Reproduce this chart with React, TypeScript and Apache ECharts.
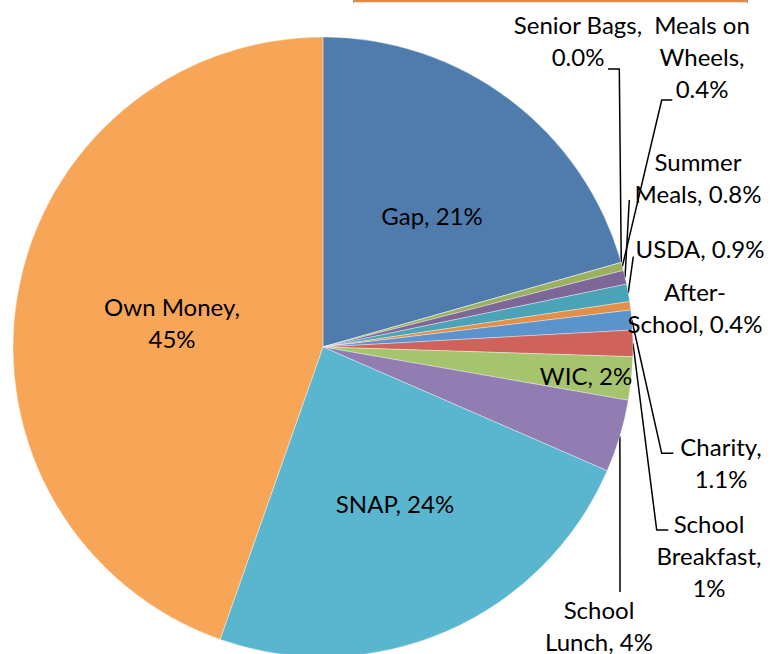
import React, { useEffect, useRef } from "react";
import * as echarts from "echarts";

// ---- data ----
const categories = [
  "Gap",
  "Senior Bags",
  "Meals on Wheels",
  "Summer Meals",
  "USDA",
  "After-School",
  "Charity",
  "School Breakfast",
  "WIC",
  "School Lunch",
  "SNAP",
  "Own Money",
];
const shares = [20.6, 0.0, 0.42, 0.72, 0.91, 0.44, 1.03, 1.37, 2.25, 3.79, 23.84, 44.6];
const labelTexts = [
  "Gap, 21%",
  "Senior Bags,\n0.0%",
  "Meals on\nWheels,\n0.4%",
  "Summer\nMeals, 0.8%",
  "USDA, 0.9%",
  "After-\nSchool, 0.4%",
  "Charity,\n1.1%",
  "School\nBreakfast,\n1%",
  "WIC, 2%",
  "School\nLunch, 4%",
  "SNAP, 24%",
  "Own Money,\n45%",
];

// ---- styles / layout ----
const sliceColors = [
  "#4F7CAC",
  "#C0504D",
  "#9AB162",
  "#7F6698",
  "#4AA3B6",
  "#E28F4A",
  "#5B93CD",
  "#CF635C",
  "#A6C46E",
  "#927DB2",
  "#5AB6CF",
  "#F7A657",
];
const insideLabels = [true, false, false, false, false, false, false, false, true, false, true, true];
const showLeader = [false, true, true, true, true, false, true, true, false, true, false, false];
const labelCenters = [
  [432, 215],
  [578, 40],
  [702, 56],
  [698, 177],
  [700, 248],
  [695, 307],
  [721, 462],
  [709, 555],
  [586, 375],
  [599, 625],
  [395, 503],
  [172, 322],
];
const leaderBends: number[][][] = [
  [],
  [[619.3, 69], [608, 69]],
  [[661.7, 100], [672.3, 100]],
  [[629.3, 200]],
  [[633.3, 256.7]],
  [],
  [[661.7, 453.3], [673.3, 453.3]],
  [[656.7, 530], [668.3, 530]],
  [],
  [[620, 592]],
  [],
  [],
];
const CENTER = [323, 347];
const RADIUS = 310;
const FONT = "Lato, 'Open Sans', sans-serif";

export default function App() {
  const ref = useRef<HTMLDivElement>(null);
  useEffect(() => {
    if (!ref.current) return;
    const chart = echarts.init(ref.current, null, { renderer: "svg" });
    const data = categories.map((name, i) => ({
      name,
      value: shares[i],
      itemStyle: { color: sliceColors[i] },
      label: {
        position: insideLabels[i] ? "inside" : "outside",
      },
      labelLine: { show: showLeader[i] },
    }));
    chart.setOption({
      animation: false,
      backgroundColor: "#ffffff",
      graphic: [
        {
          type: "line",
          shape: { x1: 354, y1: 1, x2: 747, y2: 1 },
          style: { stroke: "#DE8C45", lineWidth: 2.6 },
        },
        {
          type: "line",
          shape: { x1: 353.5, y1: 0, x2: 353.5, y2: 3 },
          style: { stroke: "#A0A0A0", lineWidth: 1 },
        },
        {
          type: "line",
          shape: { x1: 747.5, y1: 0, x2: 747.5, y2: 3 },
          style: { stroke: "#A0A0A0", lineWidth: 1 },
        },
      ],
      series: [
        {
          type: "pie",
          center: CENTER,
          radius: RADIUS,
          startAngle: 90,
          clockwise: true,
          avoidLabelOverlap: false,
          minShowLabelAngle: 0,
          itemStyle: { borderColor: "rgba(255,255,255,0.6)", borderWidth: 0.6 },
          label: {
            show: true,
            color: "#000",
            fontFamily: FONT,
            fontSize: 24,
            lineHeight: 32,
            align: "center",
            formatter: (p: any) => labelTexts[p.dataIndex],
          },
          labelLine: {
            length: 6,
            length2: 6,
            smooth: false,
            lineStyle: { color: "#000", width: 1.5 },
          },
          labelLayout: (params: any) => {
            const i = params.dataIndex;
            const [x, y] = labelCenters[i];
            const out: any = { x, y, align: "center", verticalAlign: "middle" };
            if (showLeader[i]) {
              let start = params.labelLinePoints && params.labelLinePoints[0];
              if (!start) {
                let cum = 0;
                for (let k = 0; k < i; k++) cum += shares[k];
                const total = shares.reduce((a, b) => a + b, 0);
                const a = ((cum + shares[i] / 2) / total) * 2 * Math.PI;
                start = [CENTER[0] + RADIUS * Math.sin(a), CENTER[1] - RADIUS * Math.cos(a)];
              }
              out.labelLinePoints = [start, ...leaderBends[i]];
            }
            return out;
          },
          data,
        },
      ],
    });
    return () => chart.dispose();
  }, []);
  return (
    <div
      ref={ref}
      style={{ position: "fixed", left: 0, top: 0, width: 775, height: 654 }}
    />
  );
}
